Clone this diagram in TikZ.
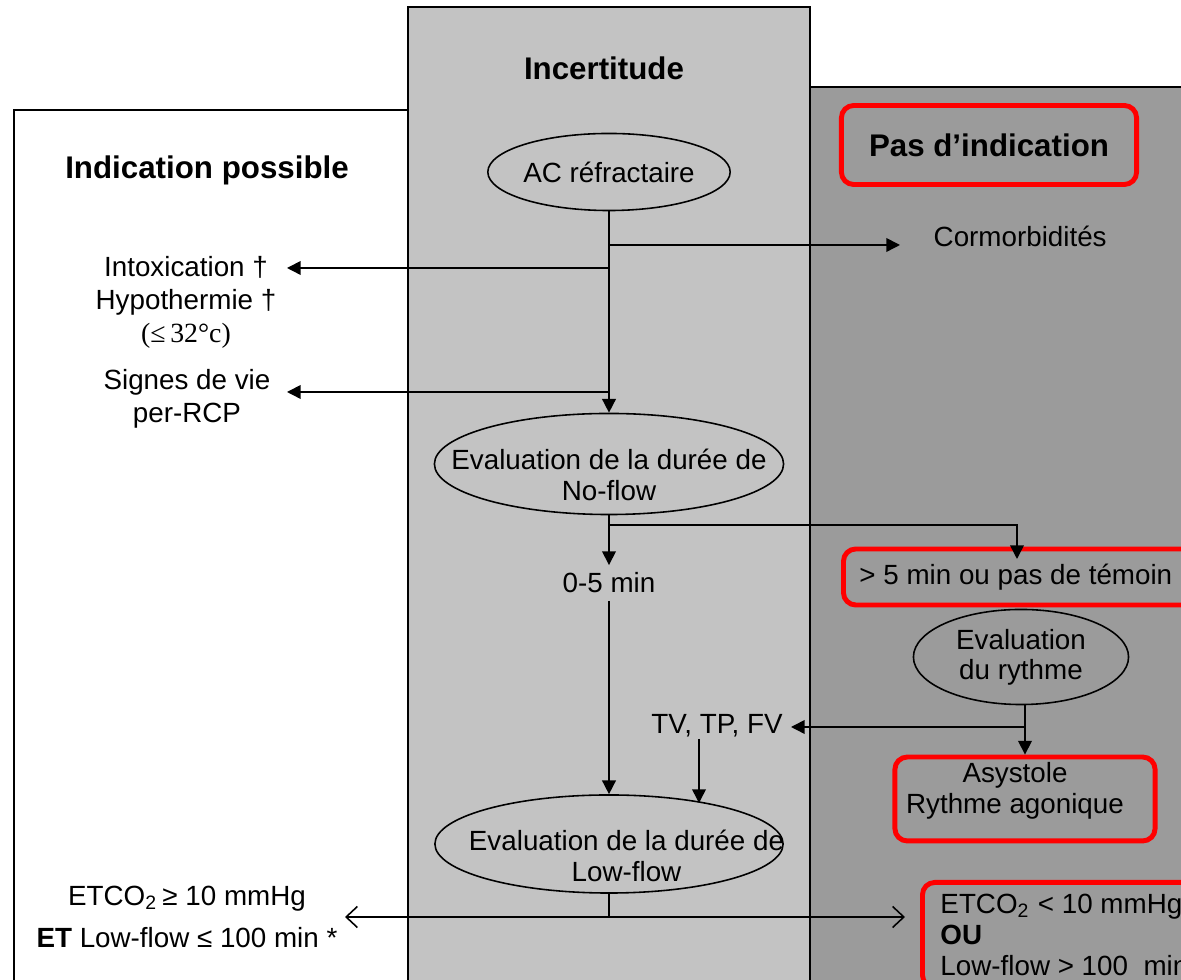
\documentclass[tikz,border=0pt]{standalone}
\usepackage{fontspec}
\setmainfont{Liberation Sans}
\newfontfamily\timesfont{Liberation Serif}
\usetikzlibrary{positioning, arrows.meta, shapes.geometric, calc}
\definecolor{cMid}{HTML}{C3C3C3}
\definecolor{cDark}{HTML}{9B9B9B}
\definecolor{cAlert}{HTML}{FF0000}
\newcommand{\ovaltext}[2]{\makebox[0pt]{\raisebox{#1}[\height][\depth]{\begin{tabular}{@{}c@{}}#2\end{tabular}}}}
\tikzset{
  heading/.style={font=\fontsize{8.9}{10}\selectfont\bfseries, inner sep=2pt},
  txt/.style={font=\fontsize{7.9}{9.4}\selectfont, align=center, inner sep=2pt},
  oval/.style={
    ellipse, draw, line width=0.45pt, inner sep=0pt,
    font=\fontsize{7.9}{8.6}\selectfont, align=center
  },
  alertbox/.style={
    rectangle, rounded corners=3.5pt, draw=cAlert, line width=1.4pt,
    font=\fontsize{7.9}{8.6}\selectfont, align=center
  },
  panel/.style={draw, line width=0.45pt},
  arrow/.style={-{Triangle[length=3.9pt,width=3.9pt]}, line width=0.45pt},
  openarrow/.style={-{Straight Barb[length=3.2pt,width=6pt]}, line width=0.45pt},
}

\begin{document}
\begin{tikzpicture}[x=0.01cm, y=-0.01cm]
  \useasboundingbox (0,0) rectangle (1181,980);
  \begin{scope}
  \clip (0,0) rectangle (1181,980);

  % three zones
  \draw[panel] (14,990) -- (14,110) -- (408,110);
  \draw[panel, fill=cMid] (408,7) rectangle (810,990);
  \draw[panel, fill=cDark] (810,87) rectangle (1200,990);

  \node[heading] (hmid) at (604,68) {Incertitude};
  \node[heading] (hleft) at (207,170) {Indication possible};
  \node[alertbox, font=\fontsize{8.9}{10}\selectfont\bfseries,
        minimum width=2.95cm, minimum height=0.79cm] (hright) at (989,145) {Pas d’indication};

  % central column
  \node[oval, minimum width=2.36cm, minimum height=0.77cm] (ac) at (609,172) {AC réfractaire};
  \node[oval, minimum width=3.49cm, minimum height=1.01cm] (noflow) at (609,464)
    {\ovaltext{-0.15cm}{Evaluation de la durée de\\No-flow}};
  \node[txt] (zerofive) at (609,583) {0-5 min};
  \node[oval, minimum width=3.48cm, minimum height=0.98cm] (lowflow) at (609,844)
    {\ovaltext{-0.16cm}{\hspace*{0.35cm}Evaluation de la durée de\\\hspace*{0.35cm}Low-flow}};

  % left column
  \node[txt] (intox) at (186,302) {Intoxication †\\Hypothermie †\\{\timesfont(≤\,32°c)}};
  \node[txt] (signes) at (187,399) {Signes de vie\\per-RCP};
  \node[txt, font=\fontsize{7.9}{11.9}\selectfont] (etleft) at (187,917)
    {ETCO\textsubscript{2}\,≥ 10 mmHg\\\textbf{ET} Low-flow ≤ 100 min *};

  % right column
  \node[txt, anchor=west] (cormo) at (926,236) {Cormorbidités};
  \node[alertbox, anchor=west, text width=3.3cm, align=flush left, inner xsep=0.16cm,
        minimum height=0.56cm] (temoin) at (841,577) {> 5 min ou pas de témoin};
  \node[oval, minimum width=2.15cm, minimum height=0.95cm] (rythme) at (1021,657) {Evaluation\\du rythme};
  \node[alertbox, minimum width=2.6cm, minimum height=0.79cm] (asyst) at (1025,799)
    {\ovaltext{0.07cm}{\hspace*{-0.2cm}Asystole\\\hspace*{-0.2cm}Rythme agonique}};
  \node[txt] (tv) at (717,726) {TV, TP, FV};
  \node[alertbox, anchor=north west, text width=3.3cm, align=flush left, inner xsep=0.18cm,
        font=\fontsize{7.9}{8.8}\selectfont, minimum height=1.0cm] (etright) at (920,880)
    {ETCO\textsubscript{2} < 10 mmHg\\\textbf{OU}\\Low-flow > 100~~min};

  % junctions and arrow ends
  \coordinate (jcorm) at (609,245);
  \coordinate (cormin) at (900,245);
  \coordinate (jintox) at (609,268);
  \coordinate (intoxin) at (287,268);
  \coordinate (jsignes) at (609,392);
  \coordinate (signesin) at (287,392);
  \coordinate (jtemoin) at (609,525);
  \coordinate (temoinin) at (1017,559);
  \coordinate (jtv) at (1025,727);
  \coordinate (tvin) at (791,727);
  \coordinate (tvout) at (699,739);
  \coordinate (lowin) at (699,803);
  \coordinate (jsplit) at (609,917);
  \coordinate (etleftin) at (345,917);
  \coordinate (etrightin) at (905,917);

  \draw[arrow] (ac) -- (noflow);
  \draw[arrow] (jcorm) -- (cormin);
  \draw[arrow] (jintox) -- (intoxin);
  \draw[arrow] (jsignes) -- (signesin);
  \draw[arrow] (noflow) -- (zerofive);
  \draw[arrow] (jtemoin) -| (temoinin);
  \draw[arrow] (zerofive) -- (lowflow);
  \draw[arrow] (rythme.south -| asyst.north) -- (asyst.north);
  \draw[arrow] (jtv) -- (tvin);
  \draw[arrow] (tvout) -- (lowin);
  \draw[line width=0.45pt] (lowflow) -- (jsplit);
  \draw[openarrow] (jsplit) -- (etleftin);
  \draw[openarrow] (jsplit) -- (etrightin);
  \end{scope}
\end{tikzpicture}
\end{document}
